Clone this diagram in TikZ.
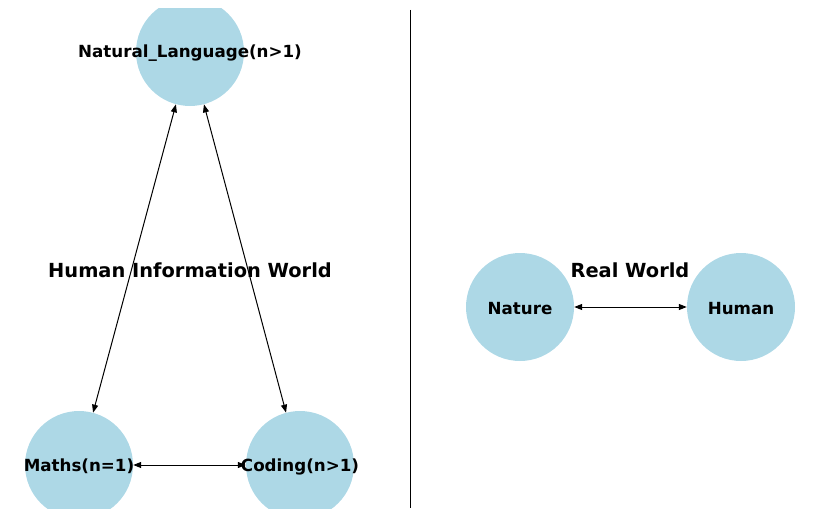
\documentclass[tikz,border=0pt]{standalone}
\usepackage{fontspec}
\setmainfont{DejaVu Sans}
\usetikzlibrary{arrows.meta}
\definecolor{nodeblue}{RGB}{173,216,230}
\tikzset{
  vertex/.style = {circle, fill=nodeblue, minimum size=108pt, inner sep=0pt,
    label={[font=\fontsize{16.7}{16.7}\selectfont\bfseries, yshift=-1.5pt]center:{#1}}},
  biarrow/.style = {{Triangle[length=8pt,width=6pt]}-{Triangle[length=8pt,width=6pt]}, line width=1pt},
  worldtitle/.style = {font=\fontsize{19.4}{19.4}\selectfont\bfseries}
}
\begin{document}
\begin{tikzpicture}[x=1pt,y=-1pt]
  \useasboundingbox (0,0) rectangle (819,519);
  \begin{scope}
    \clip (0,9) rectangle (819,508);
    \node[vertex={Natural\_Language(n>1)}] (lang) at (190,52) {};
    \node[vertex={Maths(n=1)}] (maths) at (79,465) {};
    \node[vertex={Coding(n>1)}] (coding) at (300,465) {};
    \node[vertex={Nature}] (nature) at (520,307) {};
    \node[vertex={Human}] (human) at (741,307) {};
  \end{scope}
  % information side
  \draw[biarrow] (lang) -- (maths);
  \draw[biarrow] (lang) -- (coding);
  \draw[biarrow] (maths) -- (coding);
  % real side
  \draw[biarrow] (nature) -- (human);
  \coordinate (divtop) at (410,10);
  \coordinate (divbot) at (410,508);
  \draw[line width=1pt] (divtop) -- (divbot);
  \node[worldtitle] (infotitle) at (190,270) {Human Information World};
  \node[worldtitle] (realtitle) at (630,270) {Real World};
\end{tikzpicture}
\end{document}
